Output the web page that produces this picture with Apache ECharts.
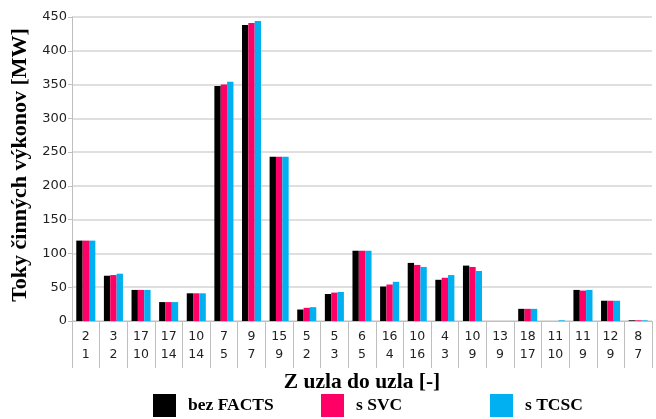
<!DOCTYPE html>
<html>
<head>
<meta charset="utf-8">
<script src="https://cdn.jsdelivr.net/npm/echarts@6/dist/echarts.min.js"></script>
<style>html,body{margin:0;padding:0;background:#fff}#c{width:656px;height:419px}</style>
</head>
<body>
<div id="c"></div>
<script>
const fromNode = ['2','3','17','17','10','7','9','15','5','5','6','16','10','4','10','13','18','11','11','12','8'];
const toNode   = ['1','2','10','14','14','5','7','9','2','3','5','4','16','3','9','9','17','10','9','9','7'];
const bezFACTS = [119, 67, 46, 28, 41, 348, 438, 243, 17, 40, 104, 51, 86, 61, 82, 0, 18, 0, 46, 30, 1];
const sSVC     = [119, 68, 46, 28, 41, 350, 441, 243, 19.5, 42, 104, 54, 83, 64, 80, 0, 18, 0, 45, 30, 1];
const sTCSC    = [119, 70, 46, 28, 41, 354, 444, 243, 20.5, 43, 104, 58, 80, 68, 74, 0, 18, 1, 46, 30, 1];
const seriesNames = ['bez FACTS', 's SVC', 's TCSC'];
const yTicks = [0, 450, 50];

const categories = fromNode.map((f, i) => f + '\n' + toNode[i]);
const colors = ['#000000', '#FF0066', '#00B0F0'];
const serif = '"Liberation Serif", "Times New Roman", serif';
const legendCommon = {
  top: 394, itemWidth: 23, itemHeight: 23, itemGap: 0, padding: 0,
  textStyle: { fontFamily: serif, fontWeight: 'bold', fontSize: 17.5, color: '#000', padding: [2,0,0,7] },
  icon: 'rect'
};
const chart = echarts.init(document.getElementById('c'));
chart.setOption({
  animation: false,
  color: colors,
  grid: { left: 72, right: 4, top: 17, bottom: 98, containLabel: false },
  legend: [
    Object.assign({ left: 153, data: [seriesNames[0]] }, legendCommon),
    Object.assign({ left: 321, data: [seriesNames[1]] }, legendCommon),
    Object.assign({ left: 490, data: [seriesNames[2]] }, legendCommon)
  ],
  xAxis: {
    type: 'category',
    data: categories,
    name: 'Z uzla do uzla [-]',
    nameLocation: 'middle',
    nameGap: 50,
    nameTextStyle: { fontFamily: serif, fontWeight: 'bold', fontSize: 21.5, color: '#000' },
    axisLine: { lineStyle: { color: '#bfbfbf', width: 1 } },
    axisTick: { show: true, length: 47, interval: 0, lineStyle: { color: '#bfbfbf' } },
    axisLabel: { interval: 0, fontFamily: '"DejaVu Sans", Verdana, sans-serif', fontSize: 12.5, lineHeight: 18, color: '#222', margin: 7 }
  },
  yAxis: {
    type: 'value',
    min: yTicks[0], max: yTicks[1], interval: yTicks[2],
    name: 'Toky činných výkonov [MW]',
    nameLocation: 'middle',
    nameGap: 30,
    nameTextStyle: { fontFamily: serif, fontWeight: 'bold', fontSize: 22, color: '#000', padding: [0,0,0,8] },
    axisLine: { show: true, lineStyle: { color: '#bfbfbf' } },
    axisTick: { show: true, length: 4, lineStyle: { color: '#bfbfbf' } },
    axisLabel: { fontFamily: '"DejaVu Sans", Verdana, sans-serif', fontSize: 13, color: '#222', margin: 5 },
    splitLine: { lineStyle: { color: '#d4d4d4', width: 1.5 } }
  },
  series: [
    { name: seriesNames[0], type: 'bar', data: bezFACTS, barGap: '0%', barCategoryGap: '31%' },
    { name: seriesNames[1], type: 'bar', data: sSVC, barGap: '0%', barCategoryGap: '31%' },
    { name: seriesNames[2], type: 'bar', data: sTCSC, barGap: '0%', barCategoryGap: '31%' }
  ]
});
</script>
</body>
</html>
